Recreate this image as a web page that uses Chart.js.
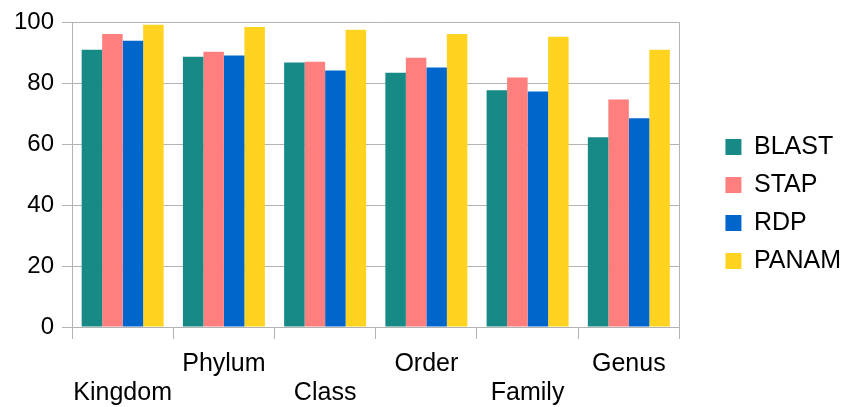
<!DOCTYPE html>
<html><head><meta charset="utf-8">
<script src="https://cdn.jsdelivr.net/npm/chart.js@4/dist/chart.umd.min.js"></script>
<style>html,body{margin:0;padding:0;background:#fff}#wrap{width:848px;height:407px}</style>
</head><body><div id="wrap"><canvas id="c"></canvas></div>
<script>
const categories = [['', 'Kingdom'], 'Phylum', ['', 'Class'], 'Order', ['', 'Family'], 'Genus'];
const seriesNames = ['BLAST', 'STAP', 'RDP', 'PANAM'];
const blast = [91.0, 88.7, 86.8, 83.5, 77.7, 62.3];
const stap  = [96.2, 90.4, 87.1, 88.4, 81.9, 74.7];
const rdp   = [94.0, 89.1, 84.2, 85.2, 77.3, 68.5];
const panam = [99.2, 98.5, 97.6, 96.2, 95.3, 91.0];
const yTicks = [0, 20, 40, 60, 80, 100];
const colors = ['#188a86', '#ff7f7f', '#0066cc', '#ffd320'];
const values = [blast, stap, rdp, panam];

const LEGEND_EXTRA = 30;
const LEGEND_SHIFT = 33;
const legendTweak = {
  id: 'legendTweak',
  beforeLayout(chart) {
    const lg = chart.legend;
    if (lg && !lg._patched) {
      const orig = lg.fit;
      lg.fit = function () { orig.call(this); this.width += LEGEND_EXTRA; };
      lg._patched = true;
    }
  },
  afterLayout(chart) {
    const lg = chart.legend;
    if (lg) { lg.left += LEGEND_SHIFT; lg.right += LEGEND_SHIFT - LEGEND_EXTRA; lg.top -= 7; lg.bottom -= 7; }
  }
};

const borderPlugin = {
  id: 'rightBorder',
  afterDraw(chart) {
    const a = chart.chartArea, ctx = chart.ctx;
    ctx.save();
    ctx.strokeStyle = '#b3b3b3';
    ctx.lineWidth = 1;
    ctx.beginPath();
    ctx.moveTo(Math.round(a.right) + 0.5, a.top);
    ctx.lineTo(Math.round(a.right) + 0.5, a.bottom);
    ctx.stroke();
    ctx.restore();
  }
};

new Chart(document.getElementById('c'), {
  type: 'bar',
  data: {
    labels: categories,
    datasets: seriesNames.map((n, i) => ({
      label: n, data: values[i], backgroundColor: colors[i], borderWidth: 0,
      categoryPercentage: 0.81, barPercentage: 1.0
    }))
  },
  options: {
    responsive: true, maintainAspectRatio: false, animation: false,
    layout: { padding: { top: 4, right: 0, left: 6, bottom: -11 } },
    plugins: {
      tooltip: { enabled: false },
      legend: {
        position: 'right',
        labels: {
          font: { family: 'Liberation Sans', size: 25 },
          color: '#000',
          boxWidth: 16, boxHeight: 16, padding: 13
        }
      }
    },
    scales: {
      x: {
        grid: { display: true, drawOnChartArea: false, color: '#b3b3b3', tickLength: 12, offset: true },
        border: { color: '#b3b3b3' },
        ticks: { font: { family: 'Liberation Sans', size: 25, lineHeight: 1.18 }, color: '#000', maxRotation: 0, autoSkip: false, padding: 10 }
      },
      y: {
        min: 0, max: 100,
        afterBuildTicks(s) { s.ticks = yTicks.map(v => ({ value: v })); },
        grid: { color: '#b3b3b3', tickLength: 10 },
        border: { color: '#b3b3b3' },
        ticks: { font: { family: 'Liberation Sans', size: 24 }, color: '#000', padding: 8 }
      }
    }
  },
  plugins: [legendTweak, borderPlugin]
});
</script></body></html>
